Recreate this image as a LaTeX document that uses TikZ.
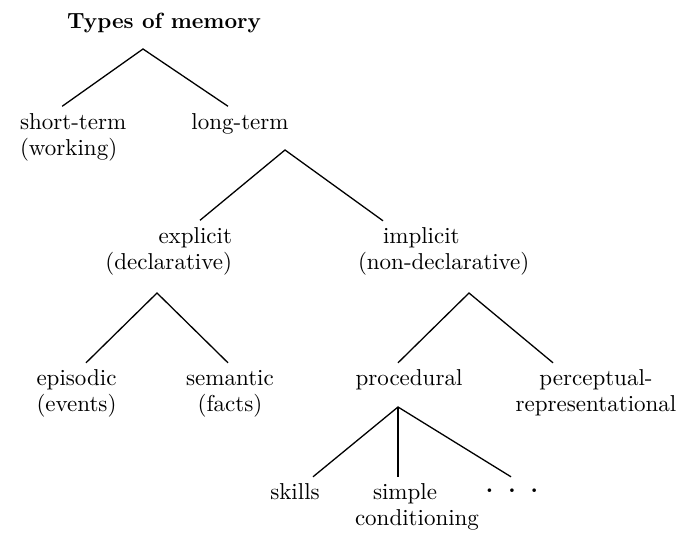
\documentclass[tikz,border=0pt]{standalone}
\usepackage{fontspec}
\setmainfont{lmroman10-regular.otf}[BoldFont=lmroman10-bold.otf]
\newcommand{\lblpair}[3]{\begin{tabular}[t]{@{}#1@{}}#2\\#3\end{tabular}}
\newcommand{\lblone}[1]{\begin{tabular}[t]{@{}c@{}}#1\end{tabular}}
\newcommand{\rdot}{\raisebox{7pt}{\textbf{.}}}
\begin{document}
\begin{tikzpicture}[x=1pt,y=-1pt,
  lbl/.style={font=\fontsize{23}{26}\selectfont, inner sep=0pt, outer sep=5pt},
  edge/.style={line width=1.3pt, draw=black}]
\useasboundingbox (0,0) rectangle (683,534);
% labels
\node[lbl, font=\fontsize{22}{26}\selectfont\bfseries, anchor=base] (title) at (164,29) {Types of memory};
\node[lbl, anchor=base west] (stm) at (15,129.5) {\lblpair{l}{short-term}{(working)}};
\node[lbl, anchor=base] (ltm) at (240,129.5) {\lblone{long-term}};
\node[lbl, anchor=base east] (expl) at (237,243.5) {\lblpair{r}{explicit}{(declarative)}};
\node[lbl, anchor=base west] (impl) at (353,244) {\lblpair{l}{\hspace*{25pt}implicit}{(non-declarative)}};
\node[lbl, anchor=base] (epi) at (76.5,386) {\lblpair{c}{episodic}{(events)}};
\node[lbl, anchor=base] (sem) at (230,386) {\lblpair{c}{semantic}{(facts)}};
\node[lbl, anchor=base] (proc) at (409,386) {\lblone{procedural}};
\node[lbl, anchor=base] (perc) at (596,386) {\lblpair{c}{perceptual-}{representational}};
\node[lbl, anchor=base] (skills) at (295,500) {\lblone{skills}};
\node[lbl, anchor=base west] (simple) at (350,500) {\lblpair{l}{\hspace*{18pt}simple}{conditioning}};
\node[lbl, anchor=base] (dots) at (512,500) {\lblone{\rdot\hspace{15pt}\rdot\hspace{15pt}\rdot}};
% fork points
\coordinate (f0) at (143,49);
\coordinate (f1) at (285,150);
\coordinate (f2) at (157,293);
\coordinate (f3) at (469,293);
\coordinate (f4) at (398,407);
% connectors
\draw[edge] ([xshift=-11pt]stm.north) -- (f0) -- ([xshift=-12pt]ltm.north);
\draw[edge] ([xshift=-37pt]expl.north east) -- (f1) -- ([xshift=30pt]impl.north west);
\draw[edge] ([xshift=9.5pt]epi.north) -- (f2) -- ([xshift=-2pt]sem.north);
\draw[edge] ([xshift=-11pt]proc.north) -- (f3) -- ([xshift=-43pt]perc.north);
\draw[edge] ([xshift=18pt]skills.north) -- (f4) -- ([xshift=-1pt]dots.north);
\draw[edge] (f4) -- ([xshift=48pt]simple.north west);
\end{tikzpicture}
\end{document}
